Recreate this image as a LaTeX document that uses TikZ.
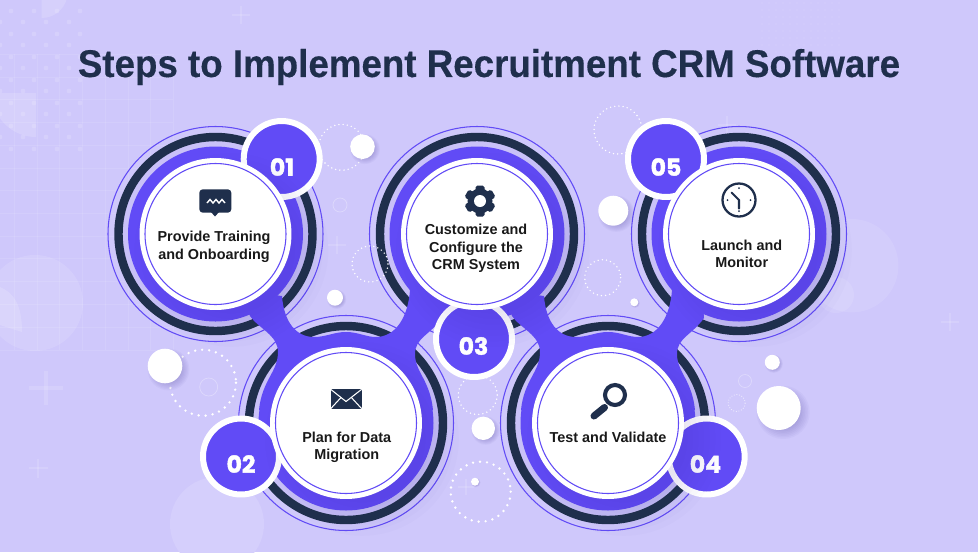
\documentclass[tikz,border=0pt]{standalone}
\usepackage{fontspec}
\setmainfont{Liberation Sans}
\newfontfamily\numfont[FakeBold=1.8]{Poppins}
\newfontfamily\titlefont[FakeStretch=.95, FakeBold=.3]{Liberation Sans}
\usetikzlibrary{calc}
\definecolor{pagebg}{HTML}{CFC8FB}
\definecolor{paletint}{HTML}{D5CFFC}
\definecolor{ringtint}{HTML}{C9C1F8}
\definecolor{stepviolet}{HTML}{614BF6}
\definecolor{stepnavy}{HTML}{1F2F4C}
\definecolor{stepshade}{HTML}{3A2F8C}
\newcommand{\softshadow}[4]{%
  \foreach \k in {1,...,7}
    \fill[stepshade, opacity=#4] ($(#1,#2)+({#3*.2},{#3*.2})$) circle ({#3*(.72+.07*\k)});}
\tikzset{
  stepdisc/.style={circle, fill=white, minimum size=3.04cm, inner sep=0pt},
  stepbadge/.style={circle, fill=stepviolet, draw=white, line width=3.4pt, minimum size=1.52cm, inner sep=0pt},
  badgenum/.style={text=white, font=\numfont\bfseries\fontsize{13.4}{13.4}\selectfont},
  steplabel/.style={align=center, text=black!90, inner sep=0pt, font=\bfseries\fontsize{8.2}{10}\selectfont},
  ball/.style={fill=white},
  dotring/.style={draw=white, line cap=round, line width=.9pt, dash pattern=on 0pt off 2.4pt},
  bigdotring/.style={draw=white, line cap=round, line width=1.5pt, dash pattern=on 0pt off 4pt},
  faint/.style={white, opacity=.1},
  faintplus/.style={white, opacity=.13, line width=#1},
}
\begin{document}
\begin{tikzpicture}[x=0.02cm, y=-0.02cm, line width=0.6pt]
  \useasboundingbox (0,0) rectangle (978,552);
  \fill[pagebg] (0,0) rectangle (978,552);
  % ===== Background grid and dots =====
  \foreach \gx in {14,37,59,82,105,128,150,173}
    \draw[faint, line width=.5pt] (\gx,54)--(\gx,350);
  \foreach \gy in {54,77,99,122,145,168,190,213,236,258,281,304,327,350}
    \draw[faint, line width=.5pt] (0,\gy)--(173,\gy);
  \foreach \gy in {11,34,57,80,103,126,149}
    \foreach \gx in {11,34,57,80}
      \fill[white, opacity=.16] (\gx,\gy) circle (2.4);
  \foreach \gy in {22,45,68,91,114,137}
    \foreach \gx in {0,23,46,69}
      \fill[white, opacity=.16] (\gx,\gy) circle (2.4);
  \foreach \gy in {3,10,...,70}
    \foreach \gx in {762,769,...,842}
      \fill[white, opacity=.18] (\gx,\gy) circle (.7);
  % ===== Background shapes =====
  \begin{scope}
    \clip (41.7,0) rectangle (70,18);
    \fill[white, opacity=.16] (41.7,-8) circle (26);
  \end{scope}
  \begin{scope}
    \clip (0,93) rectangle (36,140);
    \fill[white, opacity=.16] (36,93) circle (44);
  \end{scope}
  \fill[white, opacity=.12] (35,303) circle (48);
  \fill[white, opacity=.16] (0,287) .. controls (14,293) and (22,305) .. (22,332) -- (0,325) -- cycle;
  \fill[paletint] (217,524) circle (47);
  \fill[white, opacity=.1] (851.7,265.7) circle (46.7);
  \fill[white, opacity=.1] (836,295) circle (18);
  \foreach \cx/\cy/\arm/\wd in {46/388/17/2.2pt, 38/468/9.5/1.6pt, 241/15/9/1.5pt, 727/125/9/1.5pt, 950/322/9/1.5pt, 337/245/9/1.5pt, 466/487/8/1.3pt}{
    \draw[faintplus=\wd] (\cx-\arm,\cy)--(\cx+\arm,\cy);
    \draw[faintplus=\wd] (\cx,\cy-\arm)--(\cx,\cy+\arm);
  }
  \foreach \cx/\cy/\rr in {340/205/7, 208.7/387/9, 745/381/6.5}
    \draw[white, opacity=.3, line width=.4pt] (\cx,\cy) circle (\rr);
  \draw[white, opacity=.6, line width=.5pt, densely dotted] (736.7,403) circle (8.5);
  % ===== Rings =====
  \foreach \px/\py in {215.5/234, 346/423, 477/234, 608/423, 739/234}{
    \draw[stepviolet] (\px,\py) circle (107.5);
    \fill[ringtint] (\px,\py) circle (97);
    \draw[stepnavy, line width=4.8pt] (\px,\py) circle (97);
    \fill[stepviolet] (\px,\py) circle (87.5);
  }
  % ===== Dotted rings =====
  \draw[dotring] (341.7,147.3) circle (23);
  \draw[dotring] (370,264) circle (18);
  \draw[dotring] (602.7,277.7) circle (18);
  \draw[dotring] (618,130) circle (24);
  \draw[dotring] (477.7,395) circle (19.5);
  \draw[bigdotring] (203,382.7) circle (33);
  \draw[bigdotring] (480.7,491.7) circle (30);
  % ===== Balls =====
  \foreach \bx/\by/\br in {362.5/146.7/12.3, 335/297.7/8, 613.3/210.7/15, 634.3/302.3/4, 483.3/428.3/11.7, 475/481.7/4, 165/366/17.3, 772.3/362.3/7.5, 778.7/408/22}{
    \softshadow{\bx}{\by}{\br}{.035}
    \fill[ball] (\bx,\by) circle (\br);
  }
  % ===== Links =====
  \foreach \dx in {0,262}{
    \begin{scope}[shift={(\dx,0)}]
      \fill[stepviolet] (240,290)--(250,316) .. controls (258,328) and (278,335) .. (278,352)
        .. controls (278,372) and (262,380) .. (259,410)--(346,423)--(433,410)
        .. controls (430,380) and (415,372) .. (415,354)
        .. controls (415,338) and (430,335) .. (442,318)--(440,290)--(410,290)
        .. controls (408,318) and (395,337) .. (376,337)
        .. controls (366,337) and (358,332) .. (346,332)
        .. controls (334,332) and (326,337) .. (314,337)
        .. controls (296,337) and (284,322) .. (282,296)--cycle;
    \end{scope}
  }
  % ===== Badges =====
  \node[stepbadge] (badge1) at (281.7,159) {};
  \node[stepbadge] (badge2) at (241,456.5) {};
  \node[stepbadge] (badge3) at (474,339) {};
  \node[stepbadge] (badge4) at (706.7,456.5) {};
  \node[stepbadge] (badge5) at (666,159) {};
  \node[badgenum] (num1) at (282,167) {01};
  \node[badgenum] (num2) at (241,464) {02};
  \node[badgenum] (num3) at (473.5,346) {03};
  \node[badgenum] (num4) at (705.5,464) {04};
  \node[badgenum] (num5) at (666,167) {05};
  % ===== Discs =====
  \foreach \n/\px/\py in {1/215.5/234, 2/346/423, 3/477/234, 4/608/423, 5/739/234}{
    \softshadow{\px}{\py}{80}{.014}
    \node[stepdisc] (disc\n) at (\px,\py) {};
    \draw[stepviolet] (disc\n) circle (70.5);
  }
  \node[steplabel] (label1) at (214,247) {Provide Training\\and Onboarding};
  \node[steplabel] (label2) at (346.7,447.5) {Plan for Data\\Migration};
  \node[steplabel] (label3) at (476,248.5) {Customize and\\Configure the\\CRM System};
  \node[steplabel] (label4) at (608,437.5) {Test and Validate};
  \node[steplabel] (label5) at (741.7,254) {Launch and\\Monitor};
  % ===== Icons =====
  \fill[stepnavy, rounded corners=2pt] (199.3,189.3) rectangle (231.3,212.7);
  \fill[stepnavy] (211,212)--(215,216.5)--(219,212)--cycle;
  \draw[white, line width=.8pt] (207,203)--(210,199.5)--(213,203)--(216,199.5)--(219,203)--(222,199.5)--(225,203);
  \fill[stepnavy] (330.7,389.3) rectangle (361.7,408.7);
  \draw[white, line width=.6pt] (330.7,389.3)--(346,401.5)--(361.7,389.3);
  \draw[white, line width=.6pt] (330.7,408.7)--(341,397.5) (361.7,408.7)--(351.4,397.5);
  \fill[stepnavy] (480,201) circle (12.5);
  \foreach \a in {0,60,...,300}
    \fill[stepnavy, rounded corners=1pt, rotate around={\a:(480,201)}] (475.5,185.5) rectangle (484.5,193);
  \fill[white] (480,201) circle (6);
  \draw[stepnavy, line width=2.3pt] (615,395) circle (10);
  \draw[stepnavy, line width=4pt, line cap=round] (604.5,407.5)--(594,416);
  \draw[stepnavy, line width=1.3pt] (739,200) circle (16.5);
  \draw[stepnavy, line width=1.2pt, line cap=round] (731.7,192.7)--(739,200)--(739,208.5);
  \foreach \tx/\ty in {739/188, 739/211, 727.5/200, 750.5/200}
    \fill[stepnavy] (\tx,\ty) circle (1);
  % ===== Title =====
  \node[text=stepnavy, inner sep=0pt, font=\titlefont\bfseries\fontsize{22}{24}\selectfont] (title) at (489,67) {Steps to Implement Recruitment CRM Software};
\end{tikzpicture}
\end{document}
